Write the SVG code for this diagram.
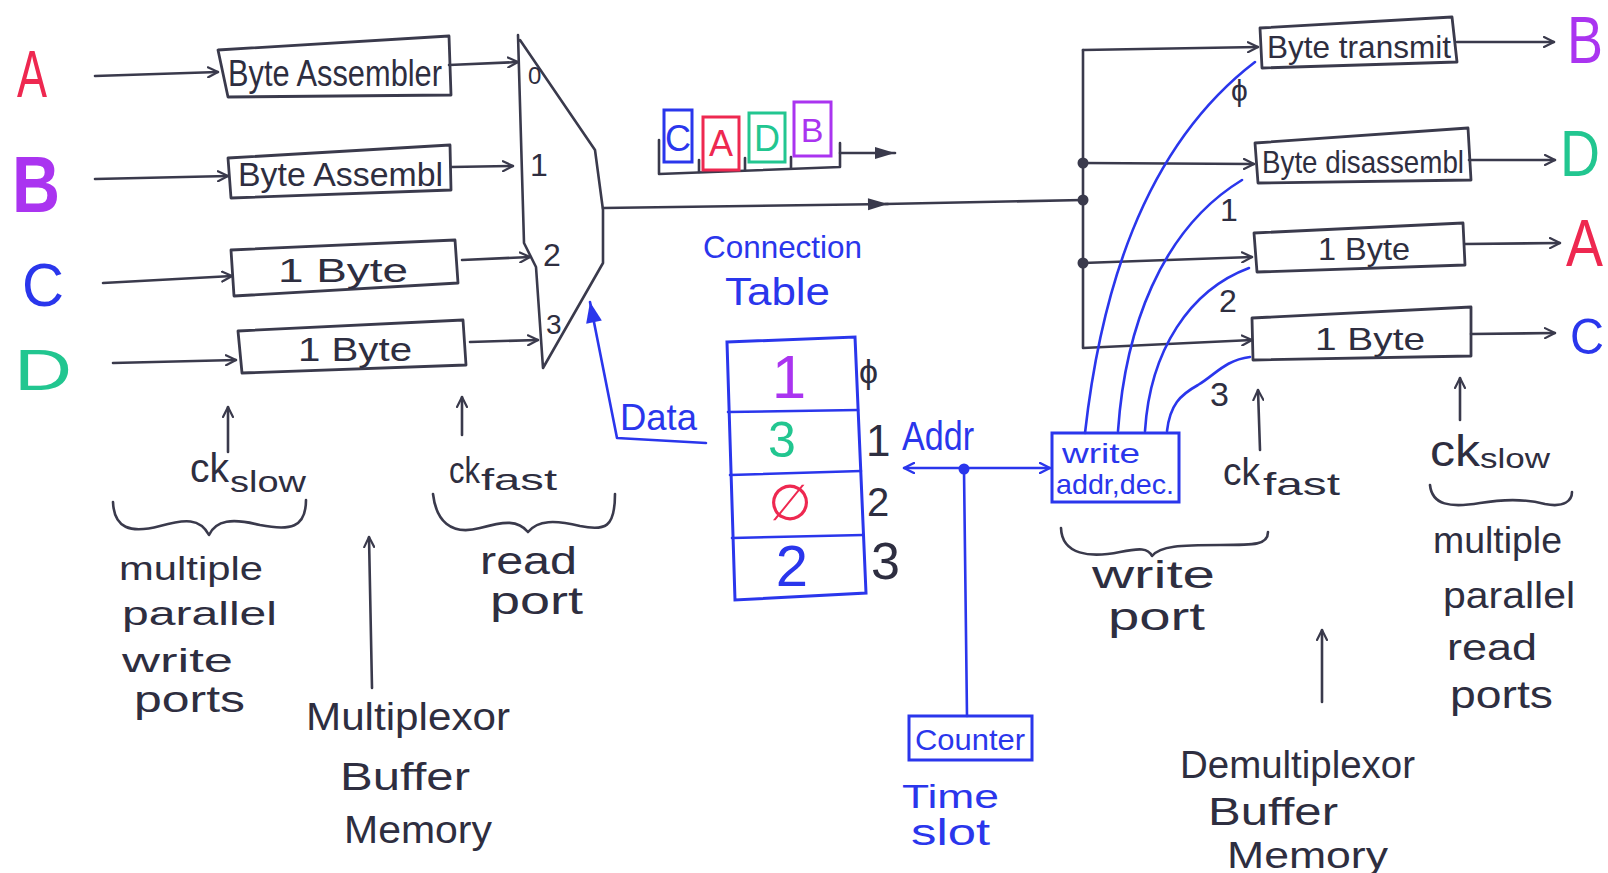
<svg xmlns="http://www.w3.org/2000/svg" width="1608" height="873" viewBox="0 0 1608 873">
  <defs>
    <style>
      .ink { fill: none; stroke: #3a3a4c; stroke-width: 2.6; stroke-linecap: round; stroke-linejoin: round; }
      .blue { fill: none; stroke: #2a36ec; stroke-width: 2.6; stroke-linecap: round; stroke-linejoin: round; }
      .box { fill: none; stroke: #3a3a4c; stroke-width: 2.8; stroke-linejoin: round; }
      .t { font-family: "Liberation Sans", "DejaVu Sans", sans-serif; fill: #2e2e40; }
      .tb { font-family: "Liberation Sans", "DejaVu Sans", sans-serif; fill: #2a36ec; }
      .red { fill: #ee2850; }
      .pur { fill: #aa34f0; }
      .grn { fill: #22c690; }
      .blu { fill: #2a36ec; }
      .dot { fill: #3a3a4c; }
    </style>
    <marker id="open" viewBox="0 0 12 12" refX="11" refY="6" markerWidth="12" markerHeight="12" markerUnits="userSpaceOnUse" orient="auto">
      <path d="M1,1 L11,6 L1,11" fill="none" stroke="#3a3a4c" stroke-width="2.2" stroke-linecap="round"/>
    </marker>
    <marker id="solid" viewBox="0 0 20 14" refX="20" refY="7" markerWidth="24" markerHeight="14" markerUnits="userSpaceOnUse" orient="auto">
      <path d="M0,1 L20,7 L0,13 Z" fill="#3a3a4c"/>
    </marker>
    <marker id="bsolid" viewBox="0 0 18 14" refX="18" refY="7" markerWidth="22" markerHeight="16" markerUnits="userSpaceOnUse" orient="auto">
      <path d="M0,0 L18,7 L0,14 Z" fill="#2a36ec"/>
    </marker>
    <marker id="bopen" viewBox="0 0 12 12" refX="11" refY="6" markerWidth="12" markerHeight="12" markerUnits="userSpaceOnUse" orient="auto">
      <path d="M1,1 L11,6 L1,11" fill="none" stroke="#2a36ec" stroke-width="2.4" stroke-linecap="round"/>
    </marker>
  </defs>

  <rect width="1608" height="873" fill="#ffffff"/>

  <!-- input channels -->
  <g id="in-A"><text class="t red" x="17" y="97" font-size="66" textLength="30" lengthAdjust="spacingAndGlyphs">A</text></g>
  <g id="in-B"><text class="t pur" x="12" y="212" font-size="80" font-weight="bold" textLength="48" lengthAdjust="spacingAndGlyphs">B</text></g>
  <g id="in-C"><text class="t blu" x="22" y="306" font-size="62" textLength="42" lengthAdjust="spacingAndGlyphs">C</text></g>
  <g id="in-D"><text class="t grn" x="14" y="390" font-size="58" textLength="58" lengthAdjust="spacingAndGlyphs">D</text></g>

  <!-- write-side byte buffers -->
  <g id="asm-A">
    <polygon class="box" points="218,50 449,36 451,95 228,97"/>
    <text class="t" x="228" y="86" font-size="36" textLength="214" lengthAdjust="spacingAndGlyphs">Byte Assembler</text>
  </g>
  <g id="asm-B">
    <polygon class="box" points="228,158 450,145 451,190 231,198"/>
    <text class="t" x="238" y="186" font-size="34" textLength="205" lengthAdjust="spacingAndGlyphs">Byte Assembl</text>
  </g>
  <g id="buf-C">
    <polygon class="box" points="231,250 455,240 458,283 234,296"/>
    <text class="t" x="278" y="282" font-size="34" textLength="130" lengthAdjust="spacingAndGlyphs">1 Byte</text>
  </g>
  <g id="buf-D">
    <polygon class="box" points="238,331 463,320 466,365 242,373"/>
    <text class="t" x="298" y="361" font-size="34" textLength="114" lengthAdjust="spacingAndGlyphs">1 Byte</text>
  </g>

  <!-- read-side multiplexer -->
  <g id="mux">
    <polyline class="ink" points="518,35 524,243 536,267 543,368 603,263 603,210 595,150 520,40"/>
    <text class="t" x="528" y="84" font-size="24">0</text>
    <text class="t" x="530" y="176" font-size="32">1</text>
    <text class="t" x="543" y="266" font-size="32">2</text>
    <text class="t" x="546" y="334" font-size="28">3</text>
  </g>

  <!-- time-slot frame on the line -->
  <g id="frame">
    <polyline class="ink" points="659,140 659,174 840,167 840,143"/>
    <line class="ink" x1="699" y1="160" x2="699" y2="172"/>
    <line class="ink" x1="745" y1="158" x2="745" y2="170"/>
    <line class="ink" x1="791" y1="157" x2="791" y2="168"/>
    <rect x="664" y="110" width="28" height="52" fill="none" stroke="#2a36ec" stroke-width="3"/>
    <text class="t blu" x="678" y="151" font-size="36" text-anchor="middle">C</text>
    <rect x="703" y="117" width="36" height="53" fill="none" stroke="#ee2850" stroke-width="3"/>
    <text class="t red" x="721" y="156" font-size="36" text-anchor="middle">A</text>
    <rect x="749" y="113" width="36" height="49" fill="none" stroke="#22c690" stroke-width="3"/>
    <text class="t grn" x="767" y="151" font-size="36" text-anchor="middle">D</text>
    <rect x="794" y="102" width="37" height="54" fill="none" stroke="#aa34f0" stroke-width="3"/>
    <text class="t pur" x="812" y="142" font-size="34" text-anchor="middle">B</text>
  </g>

  <!-- connection table -->
  <g id="conn-table">
    <text class="tb" x="703" y="258" font-size="32" textLength="159" lengthAdjust="spacingAndGlyphs">Connection</text>
    <text class="tb" x="725" y="305" font-size="38" textLength="105" lengthAdjust="spacingAndGlyphs">Table</text>
    <polygon points="727,342 855,337 866,593 735,600" fill="none" stroke="#2a36ec" stroke-width="3"/>
    <line class="blue" x1="728" y1="412" x2="858" y2="410" stroke-width="3"/>
    <line class="blue" x1="730" y1="475" x2="861" y2="471" stroke-width="3"/>
    <line class="blue" x1="732" y1="538" x2="863" y2="535" stroke-width="3"/>
    <text class="t pur" x="789" y="398" font-size="62" text-anchor="middle">1</text>
    <text class="t grn" x="782" y="457" font-size="50" text-anchor="middle">3</text>
    <text class="t red" x="790" y="520" font-size="50" text-anchor="middle">∅</text>
    <text class="t blu" x="792" y="586" font-size="58" text-anchor="middle">2</text>
    <text class="t" x="859" y="383" font-size="34">ϕ</text>
    <text class="t" x="866" y="456" font-size="44">1</text>
    <text class="t" x="867" y="516" font-size="40">2</text>
    <text class="t" x="871" y="579" font-size="52">3</text>
  </g>

  <!-- time slot counter -->
  <g id="counter">
    <rect x="909" y="716" width="123" height="44" fill="none" stroke="#2a36ec" stroke-width="3"/>
    <text class="tb" x="915" y="750" font-size="30" textLength="110" lengthAdjust="spacingAndGlyphs">Counter</text>
    <text class="tb" x="902" y="808" font-size="34" textLength="97" lengthAdjust="spacingAndGlyphs">Time</text>
    <text class="tb" x="911" y="845" font-size="36" textLength="79" lengthAdjust="spacingAndGlyphs">slot</text>
  </g>

  <!-- write address decoder -->
  <g id="addr-dec">
    <rect x="1052" y="433" width="127" height="69" fill="none" stroke="#2a36ec" stroke-width="3"/>
    <text class="tb" x="1062" y="463" font-size="28" textLength="78" lengthAdjust="spacingAndGlyphs">write</text>
    <text class="tb" x="1056" y="494" font-size="28" textLength="118" lengthAdjust="spacingAndGlyphs">addr,dec.</text>
  </g>

  <!-- read-side byte buffers -->
  <g id="out-B">
    <polygon class="box" points="1260,28 1452,17 1457,62 1262,68"/>
    <text class="t" x="1267" y="58" font-size="32" textLength="184" lengthAdjust="spacingAndGlyphs">Byte transmit</text>
    <text class="t pur" x="1567" y="63" font-size="66" textLength="36" lengthAdjust="spacingAndGlyphs">B</text>
  </g>
  <g id="out-D">
    <polygon class="box" points="1255,143 1468,128 1471,180 1258,183"/>
    <text class="t" x="1262" y="173" font-size="32" textLength="202" lengthAdjust="spacingAndGlyphs">Byte disassembl</text>
    <text class="t grn" x="1560" y="176" font-size="64" textLength="40" lengthAdjust="spacingAndGlyphs">D</text>
  </g>
  <g id="out-A">
    <polygon class="box" points="1254,233 1463,223 1465,265 1257,272"/>
    <text class="t" x="1318" y="260" font-size="32" textLength="92" lengthAdjust="spacingAndGlyphs">1 Byte</text>
    <text class="t red" x="1566" y="266" font-size="66" textLength="37" lengthAdjust="spacingAndGlyphs">A</text>
  </g>
  <g id="out-C">
    <polygon class="box" points="1252,318 1471,307 1471,356 1253,360"/>
    <text class="t" x="1315" y="350" font-size="32" textLength="110" lengthAdjust="spacingAndGlyphs">1 Byte</text>
    <text class="t blu" x="1570" y="354" font-size="50" textLength="34" lengthAdjust="spacingAndGlyphs">C</text>
  </g>

  <!-- annotations -->
  <g id="notes-left">
    <text class="t" x="190" y="482" font-size="40" textLength="39" lengthAdjust="spacingAndGlyphs">ck</text>
    <text class="t" x="230" y="492" font-size="30" textLength="76" lengthAdjust="spacingAndGlyphs">slow</text>
    <text class="t" x="119" y="580" font-size="34" textLength="144" lengthAdjust="spacingAndGlyphs">multiple</text>
    <text class="t" x="122" y="625" font-size="34" textLength="155" lengthAdjust="spacingAndGlyphs">parallel</text>
    <text class="t" x="122" y="672" font-size="34" textLength="111" lengthAdjust="spacingAndGlyphs">write</text>
    <text class="t" x="134" y="712" font-size="36" textLength="111" lengthAdjust="spacingAndGlyphs">ports</text>
    <text class="t" x="306" y="730" font-size="38" textLength="204" lengthAdjust="spacingAndGlyphs">Multiplexor</text>
    <text class="t" x="340" y="790" font-size="38" textLength="130" lengthAdjust="spacingAndGlyphs">Buffer</text>
    <text class="t" x="344" y="843" font-size="38" textLength="148" lengthAdjust="spacingAndGlyphs">Memory</text>
    <text class="t" x="449" y="483" font-size="36" textLength="31" lengthAdjust="spacingAndGlyphs">ck</text>
    <text class="t" x="481" y="490" font-size="30" textLength="76" lengthAdjust="spacingAndGlyphs">fast</text>
    <text class="t" x="480" y="574" font-size="38" textLength="97" lengthAdjust="spacingAndGlyphs">read</text>
    <text class="t" x="490" y="614" font-size="38" textLength="93" lengthAdjust="spacingAndGlyphs">port</text>
    <text class="tb" x="620" y="430" font-size="36" textLength="77" lengthAdjust="spacingAndGlyphs">Data</text>
    <text class="tb" x="902" y="450" font-size="40" textLength="72" lengthAdjust="spacingAndGlyphs">Addr</text>
  </g>
  <g id="notes-right">
    <text class="t" x="1231" y="101" font-size="30">ϕ</text>
    <text class="t" x="1220" y="221" font-size="32">1</text>
    <text class="t" x="1219" y="312" font-size="32">2</text>
    <text class="t" x="1210" y="406" font-size="34">3</text>
    <text class="t" x="1223" y="485" font-size="38" textLength="37" lengthAdjust="spacingAndGlyphs">ck</text>
    <text class="t" x="1263" y="495" font-size="32" textLength="77" lengthAdjust="spacingAndGlyphs">fast</text>
    <text class="t" x="1092" y="588" font-size="38" textLength="123" lengthAdjust="spacingAndGlyphs">write</text>
    <text class="t" x="1108" y="630" font-size="38" textLength="97" lengthAdjust="spacingAndGlyphs">port</text>
    <text class="t" x="1430" y="466" font-size="44" textLength="50" lengthAdjust="spacingAndGlyphs">ck</text>
    <text class="t" x="1480" y="468" font-size="28" textLength="70" lengthAdjust="spacingAndGlyphs">slow</text>
    <text class="t" x="1433" y="553" font-size="36" textLength="129" lengthAdjust="spacingAndGlyphs">multiple</text>
    <text class="t" x="1443" y="608" font-size="36" textLength="132" lengthAdjust="spacingAndGlyphs">parallel</text>
    <text class="t" x="1447" y="660" font-size="36" textLength="90" lengthAdjust="spacingAndGlyphs">read</text>
    <text class="t" x="1450" y="708" font-size="38" textLength="103" lengthAdjust="spacingAndGlyphs">ports</text>
    <text class="t" x="1180" y="778" font-size="38" textLength="235" lengthAdjust="spacingAndGlyphs">Demultiplexor</text>
    <text class="t" x="1208" y="825" font-size="38" textLength="130" lengthAdjust="spacingAndGlyphs">Buffer</text>
    <text class="t" x="1227" y="868" font-size="36" textLength="161" lengthAdjust="spacingAndGlyphs">Memory</text>
  </g>

  <!-- braces and pointer arrows -->
  <g id="braces">
    <path class="ink" d="M113,502 C114,528 130,534 160,526 C185,519 200,518 209,535 C216,520 232,518 260,525 C290,531 306,528 306,500"/>
    <path class="ink" d="M433,494 C436,520 450,536 480,528 C505,521 518,520 528,532 C538,520 555,520 580,526 C605,531 615,528 615,494"/>
    <path class="ink" d="M1061,528 C1062,555 1090,558 1120,552 C1140,548 1148,548 1152,556 C1160,546 1180,545 1220,545 C1255,545 1268,545 1268,532"/>
    <path class="ink" d="M1430,485 C1432,505 1450,508 1480,503 C1510,498 1530,500 1545,504 C1565,508 1572,500 1572,492"/>
    <line class="ink" x1="228" y1="452" x2="228" y2="407" marker-end="url(#open)"/>
    <line class="ink" x1="462" y1="435" x2="462" y2="397" marker-end="url(#open)"/>
    <line class="ink" x1="372" y1="688" x2="369" y2="537" marker-end="url(#open)"/>
    <line class="ink" x1="1260" y1="450" x2="1258" y2="390" marker-end="url(#open)"/>
    <line class="ink" x1="1460" y1="420" x2="1460" y2="378" marker-end="url(#open)"/>
    <line class="ink" x1="1322" y1="702" x2="1322" y2="630" marker-end="url(#open)"/>
  </g>

  <!-- connectors -->
  <g id="connectors">
    <line class="ink" x1="95" y1="76" x2="218" y2="72" marker-end="url(#open)"/>
    <line class="ink" x1="95" y1="179" x2="228" y2="176" marker-end="url(#open)"/>
    <line class="ink" x1="103" y1="283" x2="232" y2="276" marker-end="url(#open)"/>
    <line class="ink" x1="113" y1="363" x2="236" y2="360" marker-end="url(#open)"/>
    <line class="ink" x1="449" y1="65" x2="518" y2="62" marker-end="url(#open)"/>
    <line class="ink" x1="451" y1="167" x2="513" y2="166" marker-end="url(#open)"/>
    <line class="ink" x1="462" y1="260" x2="530" y2="257" marker-end="url(#open)"/>
    <line class="ink" x1="470" y1="342" x2="538" y2="340" marker-end="url(#open)"/>
    <!-- mux output bus to demux -->
    <line class="ink" x1="603" y1="208" x2="888" y2="204" marker-end="url(#solid)"/>
    <line class="ink" x1="885" y1="204" x2="1083" y2="200"/>
    <line class="ink" x1="840" y1="153" x2="895" y2="153" marker-end="url(#solid)"/>
    <!-- demux fan-out -->
    <polyline class="ink" points="1083,50 1083,348 1252,340" marker-end="url(#open)"/>
    <line class="ink" x1="1083" y1="50" x2="1258" y2="47" marker-end="url(#open)"/>
    <line class="ink" x1="1083" y1="163" x2="1254" y2="164" marker-end="url(#open)"/>
    <line class="ink" x1="1083" y1="263" x2="1252" y2="257" marker-end="url(#open)"/>
    <circle class="dot" cx="1083" cy="163" r="5.5"/>
    <circle class="dot" cx="1083" cy="200" r="5.5"/>
    <circle class="dot" cx="1083" cy="263" r="5.5"/>
    <line class="ink" x1="1457" y1="42" x2="1554" y2="42" marker-end="url(#open)"/>
    <line class="ink" x1="1469" y1="160" x2="1555" y2="160" marker-end="url(#open)"/>
    <line class="ink" x1="1465" y1="244" x2="1560" y2="243" marker-end="url(#open)"/>
    <line class="ink" x1="1471" y1="334" x2="1555" y2="333" marker-end="url(#open)"/>
    <!-- table data to mux select -->
    <polyline class="blue" points="706,443 617,438 590,302" marker-end="url(#bsolid)"/>
    <!-- address bus -->
    <line class="blue" x1="964" y1="468" x2="904" y2="468" marker-end="url(#bopen)"/>
    <line class="blue" x1="964" y1="468" x2="1050" y2="468" marker-end="url(#bopen)"/>
    <circle cx="964" cy="469" r="5.5" fill="#2a36ec"/>
    <line class="blue" x1="964" y1="470" x2="967" y2="716"/>
    <!-- write enables to demux buffers -->
    <path class="blue" d="M1085,433 C1100,300 1140,150 1255,62"/>
    <path class="blue" d="M1118,431 C1125,330 1160,230 1242,180"/>
    <path class="blue" d="M1145,431 C1150,350 1190,290 1249,268"/>
    <path class="blue" d="M1167,431 C1170,405 1180,395 1198,385 C1215,375 1225,360 1250,357"/>
  </g>
</svg>
